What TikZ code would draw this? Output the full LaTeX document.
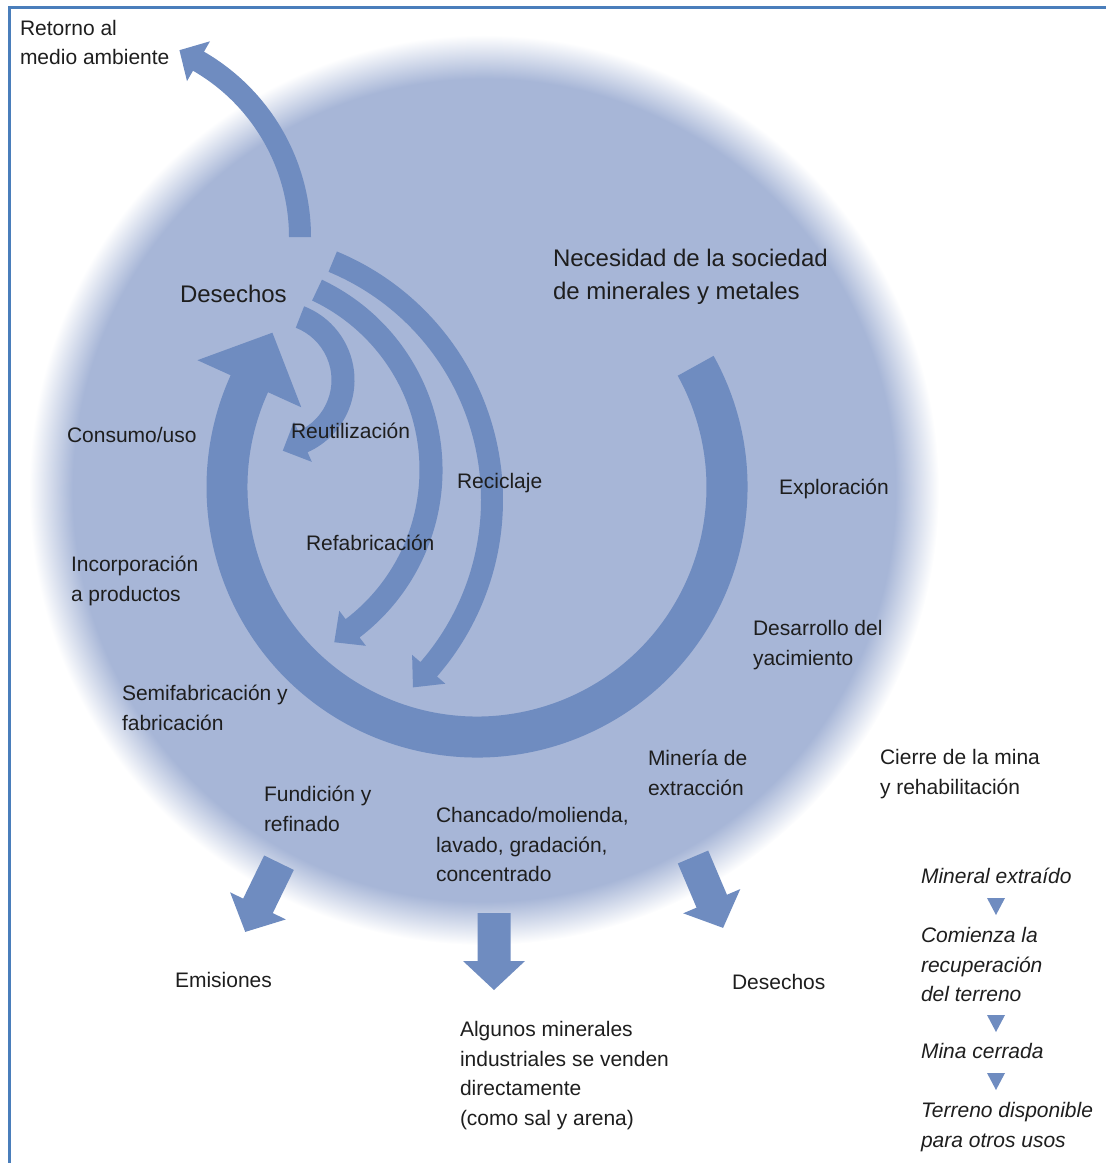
\documentclass[tikz,border=0pt]{standalone}
\usepackage{fontspec}
\setmainfont{Liberation Sans}
\usetikzlibrary{calc}
\definecolor{arrc}{HTML}{6F8CC0}
\definecolor{diskc}{HTML}{A7B6D7}
\definecolor{framec}{HTML}{4A7EBB}
\definecolor{txtc}{HTML}{1E1E1E}
\pgfdeclareradialshading{softdisk}{\pgfpoint{0bp}{0bp}}{color(0bp)=(diskc); color(22.6bp)=(diskc); color(25bp)=(white); color(50bp)=(white)}
\begin{document}
\begin{tikzpicture}[x=1pt,y=-1pt,
  arr/.style={fill=arrc, draw=none},
  lab/.style={anchor=north west, inner sep=0pt, outer sep=0pt, align=left, yshift=20.65pt, text=txtc, font=\fontsize{21}{29.5}\selectfont},
  biglab/.style={anchor=north west, inner sep=0pt, outer sep=0pt, align=left, yshift=23.1pt, text=txtc, font=\fontsize{24}{33}\selectfont},
  itlab/.style={lab, font=\fontsize{21}{29.5}\selectfont\itshape},
  blockarrow/.style={arr}]
\useasboundingbox (0,0) rectangle (1106,1163);
% frame
\draw[framec, line width=3pt] (9,1163) -- (9,7) -- (1106,7);
% disk
\shade[shading=softdisk] (484,490) circle[radius=455];
% main ring
\coordinate (C) at (477,487);
\fill[arr] ($(C)+(-29:270.5)$) arc[start angle=-29, end angle=204.4, radius=270.5]
  -- ($(C)+(204.4:307)$) -- (272.4,332.7) -- ($(C)+(204.4:193)$)
  -- ($(C)+(204.4:229.5)$) arc[start angle=204.4, end angle=-29, radius=229.5] -- cycle;
% Reciclaje arc
\coordinate (Cr) at (234,500);
\fill[arr] ($(Cr)+(-67.5:269)$) arc[start angle=-67.5, end angle=41, radius=269]
  -- ($(Cr)+(41:280)$) -- ($(Cr)+(41:258)+(131:24)$) -- ($(Cr)+(41:236)$)
  -- ($(Cr)+(41:247)$) arc[start angle=41, end angle=-67.5, radius=247] -- cycle;
% Refabricacion arc
\coordinate (Cf) at (232,470);
\fill[arr] ($(Cf)+(-64.7:210.5)$) arc[start angle=-64.7, end angle=52.7, radius=210.5]
  -- ($(Cf)+(52.7:221)$) -- ($(Cf)+(52.7:199)+(142.7:23)$) -- ($(Cf)+(52.7:177)$)
  -- ($(Cf)+(52.7:187.5)$) arc[start angle=52.7, end angle=-64.7, radius=187.5] -- cycle;
% Reutilizacion arc
\coordinate (Cu) at (275.4,380);
\fill[arr] ($(Cu)+(-68.7:79.1)$) arc[start angle=-68.7, end angle=66, radius=79.1]
  -- ($(Cu)+(66:89.6)$) -- ($(Cu)+(66:67.6)+(156:22)$) -- ($(Cu)+(66:45.6)$)
  -- ($(Cu)+(66:56.1)$) arc[start angle=66, end angle=-68.7, radius=56.1] -- cycle;
% Retorno arc
\coordinate (Ce) at (97,237);
\fill[arr] ($(Ce)+(0:214)$) arc[start angle=0, end angle=-60, radius=214]
  -- ($(Ce)+(-60:226)$) -- ($(Ce)+(-60:203)+(-150:22)$) -- ($(Ce)+(-60:180)$)
  -- ($(Ce)+(-60:192)$) arc[start angle=-60, end angle=0, radius=192] -- cycle;
% bottom block arrows
\begin{scope}[shift={(279,862.7)}, rotate=-116]
  \fill[blockarrow] (0,-16.5) -- (48,-16.5) -- (48,-31) -- (77,0) -- (48,31) -- (48,16.5) -- (0,16.5) -- cycle;
\end{scope}
\begin{scope}[shift={(494,913)}, rotate=-90]
  \fill[blockarrow] (0,-16.5) -- (48,-16.5) -- (48,-31) -- (77,0) -- (48,31) -- (48,16.5) -- (0,16.5) -- cycle;
\end{scope}
\begin{scope}[shift={(693,857)}, rotate=-67]
  \fill[blockarrow] (0,-16.5) -- (48,-16.5) -- (48,-31) -- (77,0) -- (48,31) -- (48,16.5) -- (0,16.5) -- cycle;
\end{scope}
% small triangles
\fill[arr] (987,898) -- (1005,898) -- (996,915) -- cycle;
\fill[arr] (987,1015) -- (1005,1015) -- (996,1032) -- cycle;
\fill[arr] (987,1073) -- (1005,1073) -- (996,1090) -- cycle;
% labels
\node[lab] (retorno) at (20,35) {\strut Retorno al\\medio ambiente};
\node[biglab] (desechosA) at (180,302.5) {\strut Desechos};
\node[biglab] (necesidad) at (553,266.6) {\strut Necesidad de la sociedad\\de minerales y metales};
\node[lab] (consumo) at (67,442.5) {\strut Consumo/uso};
\node[lab] (reutil) at (291,438) {\strut Reutilización};
\node[lab] (recic) at (457,488) {\strut Reciclaje};
\node[lab] (refab) at (306,550) {\strut Refabricación};
\node[lab] (explor) at (779,494.5) {\strut Exploración};
\node[lab] (incorp) at (71,571.5) {\strut Incorporación\\a productos};
\node[lab] (desarr) at (753,635.5) {\strut Desarrollo del\\yacimiento};
\node[lab] (semifab) at (122,700.5) {\strut Semifabricación y\\fabricación};
\node[lab] (mineria) at (648,765.5) {\strut Minería de\\extracción};
\node[lab] (cierre) at (880,764.5) {\strut Cierre de la mina\\y rehabilitación};
\node[lab] (fundic) at (264,801.5) {\strut Fundición y\\refinado};
\node[lab] (chancado) at (436,822.5) {\strut Chancado/molienda,\\lavado, gradación,\\concentrado};
\node[lab] (emis) at (175,987.5) {\strut Emisiones};
\node[lab] (desechosB) at (732,989.5) {\strut Desechos};
\node[lab] (algunos) at (460,1036.5) {\strut Algunos minerales\\industriales se venden\\directamente\\(como sal y arena)};
\node[itlab] (minext) at (921,883.5) {\strut Mineral extraído};
\node[itlab] (comienza) at (921,942.5) {\strut Comienza la\\recuperación\\del terreno};
\node[itlab] (minacer) at (921,1058.5) {\strut Mina cerrada};
\node[itlab] (terreno) at (921,1117.5) {\strut Terreno disponible\\para otros usos};
\end{tikzpicture}
\end{document}
